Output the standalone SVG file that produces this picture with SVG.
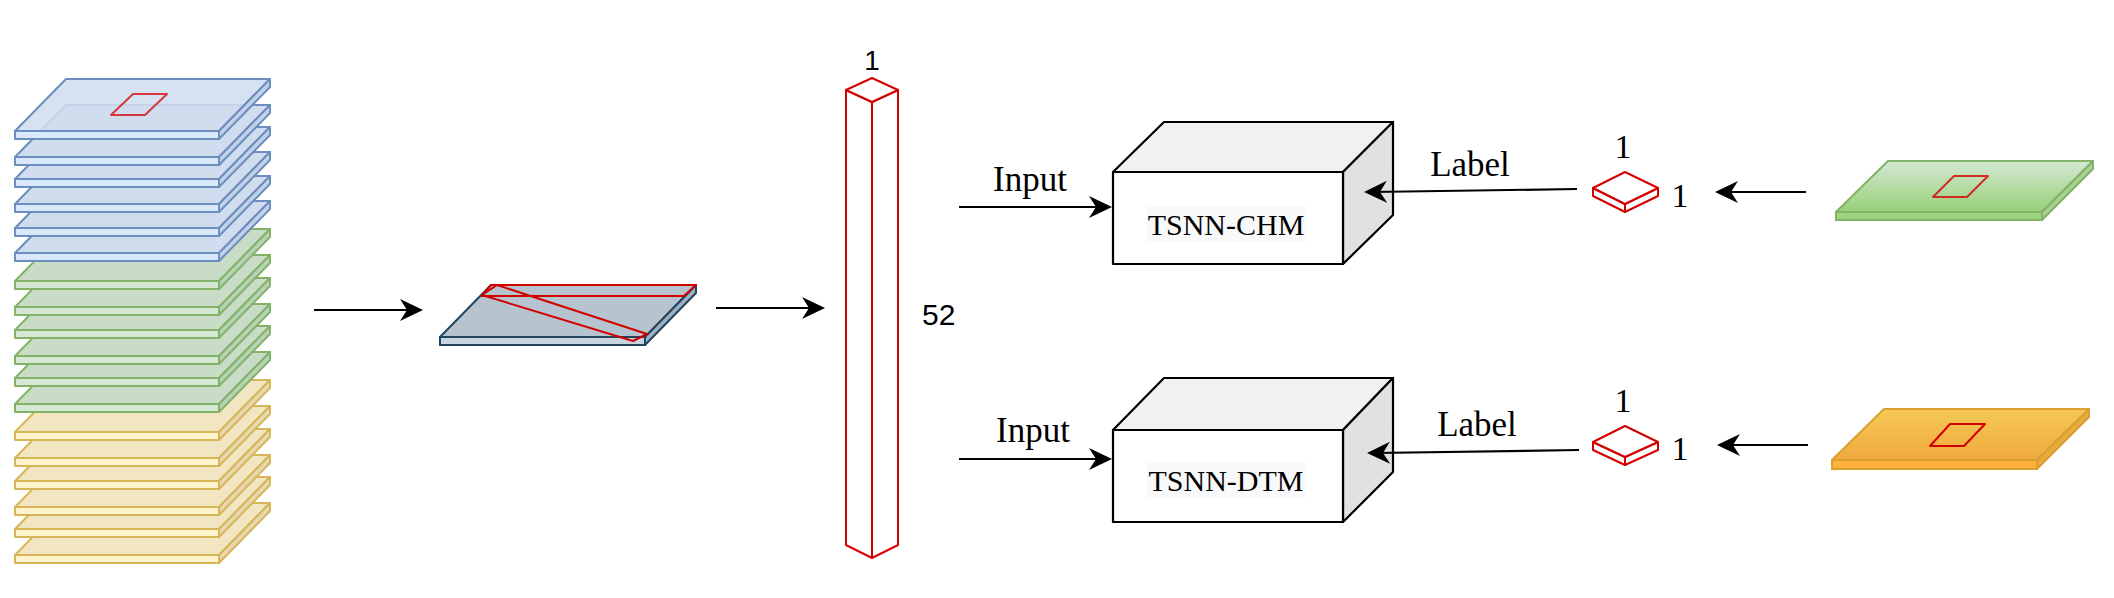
<svg xmlns="http://www.w3.org/2000/svg" width="2114" height="598" viewBox="0 0 2114 598">
<defs>
<style>
.pl polygon,.pl rect{stroke-width:2;stroke-linejoin:round}
.blue .pt{fill:#d0ddef;stroke:#6c8ebf}.blue .pf{fill:#dae8fc;stroke:#6c8ebf}.blue .ps{fill:#c2d2e8;stroke:#6c8ebf}
.green .pt{fill:#c9dcc8;stroke:#82b366}.green .pf{fill:#d5e8d4;stroke:#82b366}.green .ps{fill:#b9d1b8;stroke:#82b366}
.yellow .pt{fill:#f2e5c2;stroke:#d6b656}.yellow .pf{fill:#fff2cc;stroke:#d6b656}.yellow .ps{fill:#e6d8b2;stroke:#d6b656}
.red{fill:none;stroke:#d40000;stroke-width:2;stroke-linejoin:round}
.redw{fill:#fff;stroke:#d40000;stroke-width:2;stroke-linejoin:round}
.box{stroke:#000;stroke-width:2.2;stroke-linejoin:round}
.conn line{stroke:#000;stroke-width:2.2;fill:none}
.serif{font-family:"Liberation Serif","Times New Roman",serif;fill:#000}
.sans{font-family:"Liberation Sans",Arial,sans-serif;fill:#000}
</style>
<marker id="arr" markerUnits="userSpaceOnUse" markerWidth="24" markerHeight="24" refX="15" refY="11.5" orient="auto">
<path d="M0,0.5 L23,11.5 L0,22.5 L7,11.5 Z" fill="#000"/>
</marker>
<linearGradient id="gGreen" x1="0" y1="0" x2="0" y2="1">
<stop offset="0" stop-color="#d5e8d4"/><stop offset="1" stop-color="#97d077"/>
</linearGradient>
<linearGradient id="gOrange" x1="0" y1="0" x2="0" y2="1">
<stop offset="0" stop-color="#f5c955"/><stop offset="1" stop-color="#f0a93e"/>
</linearGradient>
</defs>
<rect width="2114" height="598" fill="#fff"/>

<g id="stack">
<g class="pl yellow" transform="translate(15,555)"><polygon class="pt" points="0,0 51,-52 255,-52 204,0"/><polygon class="ps" points="204,0 255,-52 255,-44 204,8"/><rect class="pf" x="0" y="0" width="204" height="8"/></g>
<g class="pl yellow" transform="translate(15,529)"><polygon class="pt" points="0,0 51,-52 255,-52 204,0"/><polygon class="ps" points="204,0 255,-52 255,-44 204,8"/><rect class="pf" x="0" y="0" width="204" height="8"/></g>
<g class="pl yellow" transform="translate(15,507)"><polygon class="pt" points="0,0 51,-52 255,-52 204,0"/><polygon class="ps" points="204,0 255,-52 255,-44 204,8"/><rect class="pf" x="0" y="0" width="204" height="8"/></g>
<g class="pl yellow" transform="translate(15,481)"><polygon class="pt" points="0,0 51,-52 255,-52 204,0"/><polygon class="ps" points="204,0 255,-52 255,-44 204,8"/><rect class="pf" x="0" y="0" width="204" height="8"/></g>
<g class="pl yellow" transform="translate(15,458)"><polygon class="pt" points="0,0 51,-52 255,-52 204,0"/><polygon class="ps" points="204,0 255,-52 255,-44 204,8"/><rect class="pf" x="0" y="0" width="204" height="8"/></g>
<g class="pl yellow" transform="translate(15,432)"><polygon class="pt" points="0,0 51,-52 255,-52 204,0"/><polygon class="ps" points="204,0 255,-52 255,-44 204,8"/><rect class="pf" x="0" y="0" width="204" height="8"/></g>
<g class="pl green" transform="translate(15,404)"><polygon class="pt" points="0,0 51,-52 255,-52 204,0"/><polygon class="ps" points="204,0 255,-52 255,-44 204,8"/><rect class="pf" x="0" y="0" width="204" height="8"/></g>
<g class="pl green" transform="translate(15,378)"><polygon class="pt" points="0,0 51,-52 255,-52 204,0"/><polygon class="ps" points="204,0 255,-52 255,-44 204,8"/><rect class="pf" x="0" y="0" width="204" height="8"/></g>
<g class="pl green" transform="translate(15,356)"><polygon class="pt" points="0,0 51,-52 255,-52 204,0"/><polygon class="ps" points="204,0 255,-52 255,-44 204,8"/><rect class="pf" x="0" y="0" width="204" height="8"/></g>
<g class="pl green" transform="translate(15,330)"><polygon class="pt" points="0,0 51,-52 255,-52 204,0"/><polygon class="ps" points="204,0 255,-52 255,-44 204,8"/><rect class="pf" x="0" y="0" width="204" height="8"/></g>
<g class="pl green" transform="translate(15,307)"><polygon class="pt" points="0,0 51,-52 255,-52 204,0"/><polygon class="ps" points="204,0 255,-52 255,-44 204,8"/><rect class="pf" x="0" y="0" width="204" height="8"/></g>
<g class="pl green" transform="translate(15,281)"><polygon class="pt" points="0,0 51,-52 255,-52 204,0"/><polygon class="ps" points="204,0 255,-52 255,-44 204,8"/><rect class="pf" x="0" y="0" width="204" height="8"/></g>
<g class="pl blue" transform="translate(15,253)"><polygon class="pt" points="0,0 51,-52 255,-52 204,0"/><polygon class="ps" points="204,0 255,-52 255,-44 204,8"/><rect class="pf" x="0" y="0" width="204" height="8"/></g>
<g class="pl blue" transform="translate(15,228)"><polygon class="pt" points="0,0 51,-52 255,-52 204,0"/><polygon class="ps" points="204,0 255,-52 255,-44 204,8"/><rect class="pf" x="0" y="0" width="204" height="8"/></g>
<g class="pl blue" transform="translate(15,204)"><polygon class="pt" points="0,0 51,-52 255,-52 204,0"/><polygon class="ps" points="204,0 255,-52 255,-44 204,8"/><rect class="pf" x="0" y="0" width="204" height="8"/></g>
<g class="pl blue" transform="translate(15,179)"><polygon class="pt" points="0,0 51,-52 255,-52 204,0"/><polygon class="ps" points="204,0 255,-52 255,-44 204,8"/><rect class="pf" x="0" y="0" width="204" height="8"/></g>
<g class="pl blue" transform="translate(15,157)"><polygon class="pt" points="0,0 51,-52 255,-52 204,0"/><polygon class="ps" points="204,0 255,-52 255,-44 204,8"/><rect class="pf" x="0" y="0" width="204" height="8"/></g>
<g class="pl blue" transform="translate(15,131)"><polygon class="pt" points="0,0 51,-52 255,-52 204,0" style="fill-opacity:0.88"/><polygon class="ps" points="204,0 255,-52 255,-44 204,8"/><rect class="pf" x="0" y="0" width="204" height="8"/></g>
<polygon class="red" points="133,94 167,94 145,115 111,115" stroke-opacity="0.75"/>
</g>

<g id="slab">
<polygon points="491,285 696,285 645,337 440,337" fill="#b6c4cf" stroke="#23445d" stroke-width="2" stroke-linejoin="round"/>
<polygon points="645,337 696,285 696,293 645,345" fill="#9fb0be" stroke="#23445d" stroke-width="2" stroke-linejoin="round"/>
<rect x="440" y="337" width="205" height="8" fill="#c8d4de" stroke="#23445d" stroke-width="2"/>
<polygon class="red" points="491,285 696,285 684,296 482,296"/>
<polygon class="red" points="497,285 647,334 633,341 482,295"/>
</g>

<g id="column">
<polygon class="redw" points="846,90 872,102 872,558 846,545"/>
<polygon class="redw" points="872,102 898,90 898,545 872,558"/>
<polygon class="redw" points="872,78 898,90 872,102 846,90"/>
<text class="sans" x="872" y="70" font-size="28" text-anchor="middle">1</text>
<text class="sans" x="922" y="325" font-size="30">52</text>
</g>

<g id="tsnn-chm">
<polygon class="box" points="1113,172 1164,122 1393,122 1343,172" fill="#f1f1f1"/>
<polygon class="box" points="1343,172 1393,122 1393,215 1343,264" fill="#e1e1e1"/>
<rect class="box" x="1113" y="172" width="230" height="92" fill="#fff"/>
<rect x="1147" y="206" width="159" height="36" fill="#f8f9fa"/>
<text class="serif" x="1226" y="235" font-size="30" text-anchor="middle">TSNN-CHM</text>
</g>

<g id="tsnn-dtm">
<polygon class="box" points="1113,430 1164,378 1393,378 1343,430" fill="#f1f1f1"/>
<polygon class="box" points="1343,430 1393,378 1393,472 1343,522" fill="#e1e1e1"/>
<rect class="box" x="1113" y="430" width="230" height="92" fill="#fff"/>
<rect x="1147" y="462" width="159" height="36" fill="#f8f9fa"/>
<text class="serif" x="1226" y="491" font-size="30" text-anchor="middle">TSNN-DTM</text>
</g>

<g id="label-cube-top">
<polygon class="redw" points="1593,188 1625,204 1625,212 1593,196"/>
<polygon class="redw" points="1625,204 1658,188 1658,196 1625,212"/>
<polygon class="redw" points="1625,172 1658,188 1625,204 1593,188"/>
<text class="serif" x="1623" y="158" font-size="34" text-anchor="middle">1</text>
<text class="serif" x="1680" y="207" font-size="34" text-anchor="middle">1</text>
</g>

<g id="label-cube-bottom">
<polygon class="redw" points="1593,442 1625,457 1625,465 1593,450"/>
<polygon class="redw" points="1625,457 1658,442 1658,450 1625,465"/>
<polygon class="redw" points="1625,426 1658,442 1625,457 1593,442"/>
<text class="serif" x="1623" y="412" font-size="34" text-anchor="middle">1</text>
<text class="serif" x="1680" y="460" font-size="34" text-anchor="middle">1</text>
</g>

<g id="chm-map">
<polygon points="1888,161 2093,161 2042,212 1836,212" fill="url(#gGreen)" stroke="#82b366" stroke-width="2" stroke-linejoin="round"/>
<polygon points="2042,212 2093,161 2093,169 2042,220" fill="#a9d08f" stroke="#82b366" stroke-width="2" stroke-linejoin="round"/>
<rect x="1836" y="212" width="206" height="8" fill="#9fd47f" stroke="#82b366" stroke-width="2"/>
<polygon class="red" points="1954,176 1988,176 1967,197 1933,197" stroke-opacity="0.8"/>
</g>

<g id="dtm-map">
<polygon points="1884,409 2089,409 2037,460 1832,460" fill="url(#gOrange)" stroke="#d9a030" stroke-width="2" stroke-linejoin="round"/>
<polygon points="2037,460 2089,409 2089,417 2037,469" fill="#e8aa3c" stroke="#d9a030" stroke-width="2" stroke-linejoin="round"/>
<rect x="1832" y="460" width="205" height="9" fill="#ffb03d" stroke="#d9a030" stroke-width="2"/>
<polygon class="red" points="1950,424 1985,424 1964,446 1930,446" stroke="#e03020"/>
</g>

<g id="connectors" class="conn">
<line x1="314" y1="310" x2="415" y2="310" marker-end="url(#arr)"/>
<line x1="716" y1="308" x2="817" y2="308" marker-end="url(#arr)"/>
<line x1="959" y1="207" x2="1104" y2="207" marker-end="url(#arr)"/>
<line x1="959" y1="459" x2="1104" y2="459" marker-end="url(#arr)"/>
<line x1="1577" y1="189" x2="1372" y2="192" marker-end="url(#arr)"/>
<line x1="1579" y1="450" x2="1375" y2="453" marker-end="url(#arr)"/>
<line x1="1806" y1="192" x2="1723" y2="192" marker-end="url(#arr)"/>
<line x1="1808" y1="445" x2="1725" y2="445" marker-end="url(#arr)"/>
</g>

<g id="labels">
<text class="serif" x="993" y="191" font-size="35">Input</text>
<text class="serif" x="996" y="442" font-size="35">Input</text>
<text class="serif" x="1470" y="176" font-size="35" text-anchor="middle">Label</text>
<text class="serif" x="1477" y="436" font-size="35" text-anchor="middle">Label</text>
</g>
</svg>
